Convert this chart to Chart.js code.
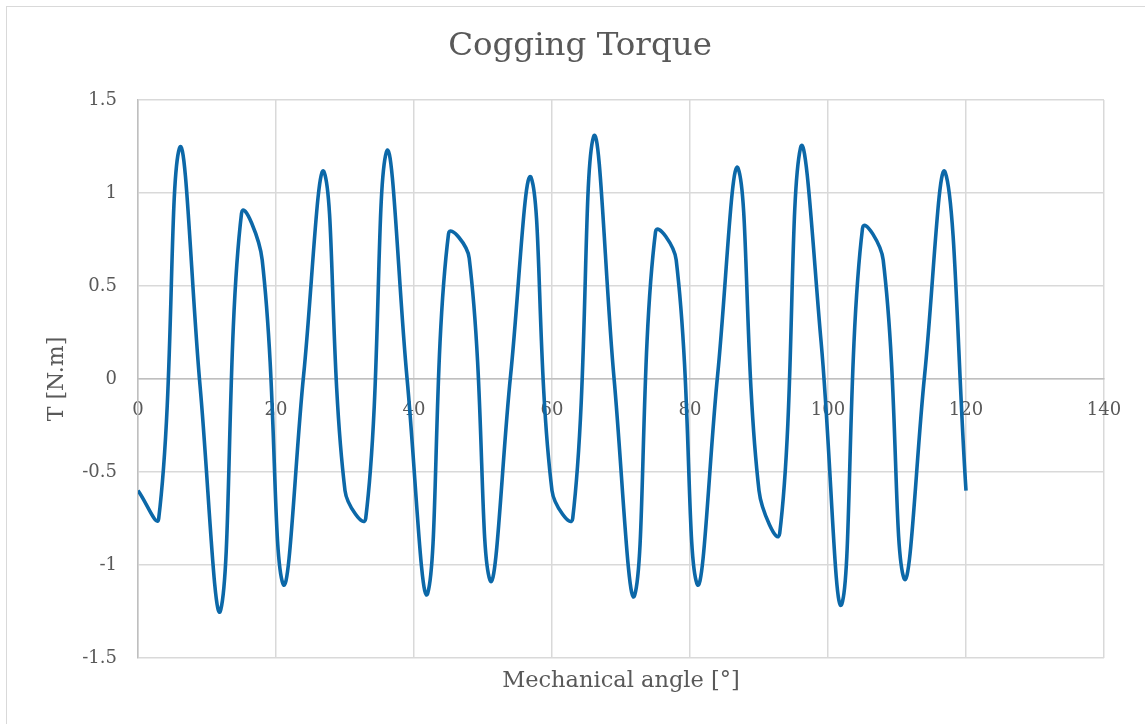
<!DOCTYPE html>
<html>
<head>
<meta charset="utf-8">
<title>Cogging Torque</title>
<script src="https://cdn.jsdelivr.net/npm/chart.js@4.4.1/dist/chart.umd.min.js"></script>
<style>
  html, body { margin: 0; padding: 0; background: #ffffff; overflow: hidden; }
  #wrap { position: absolute; left: 0; top: 0; width: 1145px; height: 724px; }
  #frame { position: absolute; left: 6px; top: 6px; width: 1160px; height: 740px;
           border: 1.5px solid #d9d9d9; box-sizing: border-box; pointer-events: none; }
  canvas { display: block; }
</style>
</head>
<body>
<div id="wrap">
  <canvas id="chart" width="1145" height="724"></canvas>
  <div id="frame"></div>
</div>
<script>
// Rotor mechanical angle [deg] and the cogging torque sampled at each angle [N.m]
const angles = [0, 3, 6, 9, 12, 15, 18, 21, 24, 27,
                30, 33, 36, 39, 42, 45, 48, 51, 54, 57,
                60, 63, 66, 69, 72, 75, 78, 81, 84, 87,
                90, 93, 96, 99, 102, 105, 108, 111, 114, 117, 120];
const torque = [-0.60, -0.75, 1.24, -0.04, -1.24, 0.89, 0.64, -1.10, 0.02, 1.11,
                -0.60, -0.75, 1.22, 0.00, -1.15, 0.78, 0.65, -1.08, 0.02, 1.08,
                -0.60, -0.75, 1.30, 0.00, -1.16, 0.79, 0.64, -1.10, 0.02, 1.13,
                -0.60, -0.83, 1.24, 0.20, -1.21, 0.81, 0.64, -1.07, 0.02, 1.11, -0.60];

const xTicks = [0, 20, 40, 60, 80, 100, 120, 140];
const yTicks = [-1.5, -1, -0.5, 0, 0.5, 1, 1.5];

const chartTitle = 'Cogging Torque';
const xTitle = 'Mechanical angle [\u00B0]';
const yTitle = 'T [N.m]';

const FONT = "'DejaVu Serif', 'Liberation Serif', serif";
const TEXT = '#595959';
const GRID = '#d9d9d9';
const AXIS = '#bfbfbf';

const points = angles.map((a, i) => ({ x: a, y: torque[i] }));

new Chart(document.getElementById('chart'), {
  type: 'line',
  data: {
    datasets: [{
      label: 'T',
      data: points,
      borderColor: '#0c68a8',
      borderWidth: 3.6,
      pointRadius: 0,
      tension: 0.4,
      fill: false
    }]
  },
  options: {
    responsive: false,
    animation: false,
    layout: { padding: { left: 56, right: 41, top: 0, bottom: 0 } },
    plugins: {
      legend: { display: false },
      tooltip: { enabled: false },
      title: {
        display: true,
        text: chartTitle,
        color: TEXT,
        font: { family: FONT, size: 32.5, weight: 'normal', lineHeight: 1.2 },
        padding: { top: 27, bottom: 34 }
      }
    },
    scales: {
      x: {
        type: 'linear',
        position: { y: 0 },
        min: xTicks[0],
        max: xTicks[xTicks.length - 1],
        afterBuildTicks: (scale) => { scale.ticks = xTicks.map(v => ({ value: v })); },
        grid: { color: GRID, lineWidth: 1.5, drawTicks: false },
        border: { display: true, color: AXIS, width: 1.5 },
        ticks: { color: TEXT, padding: 21, font: { family: FONT, size: 18 }, maxRotation: 0,
                 callback: (v) => String(v) }
      },
      xTitleAxis: {
        type: 'linear',
        axis: 'x',
        position: 'bottom',
        min: xTicks[0],
        max: xTicks[xTicks.length - 1],
        grid: { display: false, drawTicks: false },
        border: { display: false },
        ticks: { display: false },
        title: {
          display: true,
          text: xTitle,
          color: TEXT,
          font: { family: FONT, size: 22.5, lineHeight: 1.2 },
          padding: { top: 0, bottom: 29 }
        },
        afterFit: (scale) => { scale.height = 66; }
      },
      y: {
        type: 'linear',
        position: 'left',
        min: yTicks[0],
        max: yTicks[yTicks.length - 1],
        afterBuildTicks: (scale) => { scale.ticks = yTicks.map(v => ({ value: v })); },
        grid: { color: GRID, lineWidth: 1.5, drawTicks: false },
        border: { display: true, color: AXIS, width: 1.5 },
        ticks: { color: TEXT, padding: 21, font: { family: FONT, size: 18 },
                 callback: (v) => String(v) },
        title: {
          display: true,
          text: yTitle,
          color: TEXT,
          font: { family: FONT, size: 22, lineHeight: 1.2 },
          padding: { top: -12, bottom: 0 }
        },
        afterFit: (scale) => { scale.width = 82; }
      }
    }
  }
});
</script>
</body>
</html>
